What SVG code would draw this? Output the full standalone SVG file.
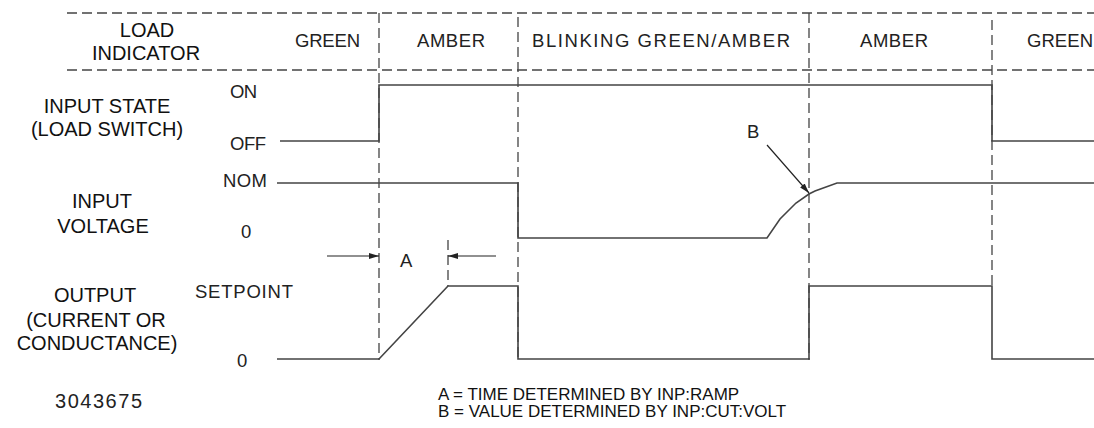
<svg xmlns="http://www.w3.org/2000/svg" width="1094" height="428" viewBox="0 0 1094 428">
<style>
.bg{fill:#fff}
.dash{fill:none;stroke:#444;stroke-width:1.3;stroke-dasharray:10 5}
.sig{fill:none;stroke:#444;stroke-width:1.6;stroke-linejoin:miter}
.thin{fill:none;stroke:#222;stroke-width:1.2}
.lbl{font-family:"Liberation Sans",Arial,sans-serif;font-size:20px;fill:#111;text-anchor:middle}
.cad{font-family:"Liberation Sans",Arial,sans-serif;font-size:18.5px;fill:#222;font-weight:300}
.note{font-family:"Liberation Sans",Arial,sans-serif;font-size:17px;fill:#111}
</style>
<defs>
<marker id="ah" viewBox="0 0 10 6" refX="10" refY="3" markerWidth="10" markerHeight="6" markerUnits="userSpaceOnUse" orient="auto">
<path d="M0,0 L10,3 L0,6 Z" fill="#222"/>
</marker>
</defs>
<rect class="bg" x="0" y="0" width="1094" height="428"/>

<g id="grid">
<line class="dash" x1="67" y1="13" x2="1094" y2="13"/>
<line class="dash" x1="67" y1="70" x2="1094" y2="70"/>
<line class="dash" x1="379" y1="13" x2="379" y2="360"/>
<line class="dash" x1="518" y1="17" x2="518" y2="360"/>
<line class="dash" x1="809" y1="13" x2="809" y2="360"/>
<line class="dash" x1="992" y1="20" x2="992" y2="286"/>
<line class="dash" x1="448" y1="240" x2="448" y2="286"/>
</g>

<g id="load-indicator">
<text class="lbl" x="147" y="37">LOAD</text>
<text class="lbl" x="146" y="60">INDICATOR</text>
<text class="cad" x="295" y="47" textLength="65">GREEN</text>
<text class="cad" x="417" y="47" textLength="68">AMBER</text>
<text class="cad" x="532" y="47" textLength="258">BLINKING  GREEN/AMBER</text>
<text class="cad" x="860" y="47" textLength="68">AMBER</text>
<text class="cad" x="1027" y="47" textLength="66">GREEN</text>
</g>

<g id="input-state">
<text class="lbl" x="107" y="113">INPUT STATE</text>
<text class="lbl" x="107" y="136">(LOAD SWITCH)</text>
<text class="cad" x="230" y="98" textLength="27">ON</text>
<text class="cad" x="230" y="150" textLength="36">OFF</text>
<polyline class="sig" points="280,141 379,141 379,85 992,85 992,141 1094,141"/>
</g>

<g id="input-voltage">
<text class="lbl" x="102" y="208">INPUT</text>
<text class="lbl" x="103" y="233">VOLTAGE</text>
<text class="cad" x="223" y="187" textLength="44">NOM</text>
<text class="cad" x="241" y="238" textLength="11">0</text>
<polyline class="sig" points="277,183 518,183 518,238 767,238 780,219 796,203 809,194 815,191 837,183 1094,183"/>
</g>

<g id="output">
<text class="lbl" x="95" y="302">OUTPUT</text>
<text class="lbl" x="96" y="327">(CURRENT OR</text>
<text class="lbl" x="97" y="350">CONDUCTANCE)</text>
<text class="cad" x="195" y="298" textLength="98">SETPOINT</text>
<text class="cad" x="237" y="367" textLength="11">0</text>
<polyline class="sig" points="277,359 379,359 448,286 518,286 518,359 809,359 809,286 992,286 992,359 1094,359"/>
</g>

<g id="connectors">
<line class="thin" x1="327" y1="256" x2="379" y2="256" marker-end="url(#ah)"/>
<line class="thin" x1="496" y1="256" x2="448" y2="256" marker-end="url(#ah)"/>
<line class="thin" x1="767" y1="145" x2="809" y2="193" marker-end="url(#ah)"/>
</g>

<g id="annotations">
<text class="cad" x="400" y="267" textLength="13">A</text>
<text class="cad" x="747" y="138" textLength="13">B</text>
<text class="cad" x="55" y="408" textLength="87" style="font-size:20px">3043675</text>
<text class="note" x="438" y="400">A = TIME DETERMINED BY INP:RAMP</text>
<text class="note" x="438" y="417">B = VALUE DETERMINED BY INP:CUT:VOLT</text>
</g>
</svg>
